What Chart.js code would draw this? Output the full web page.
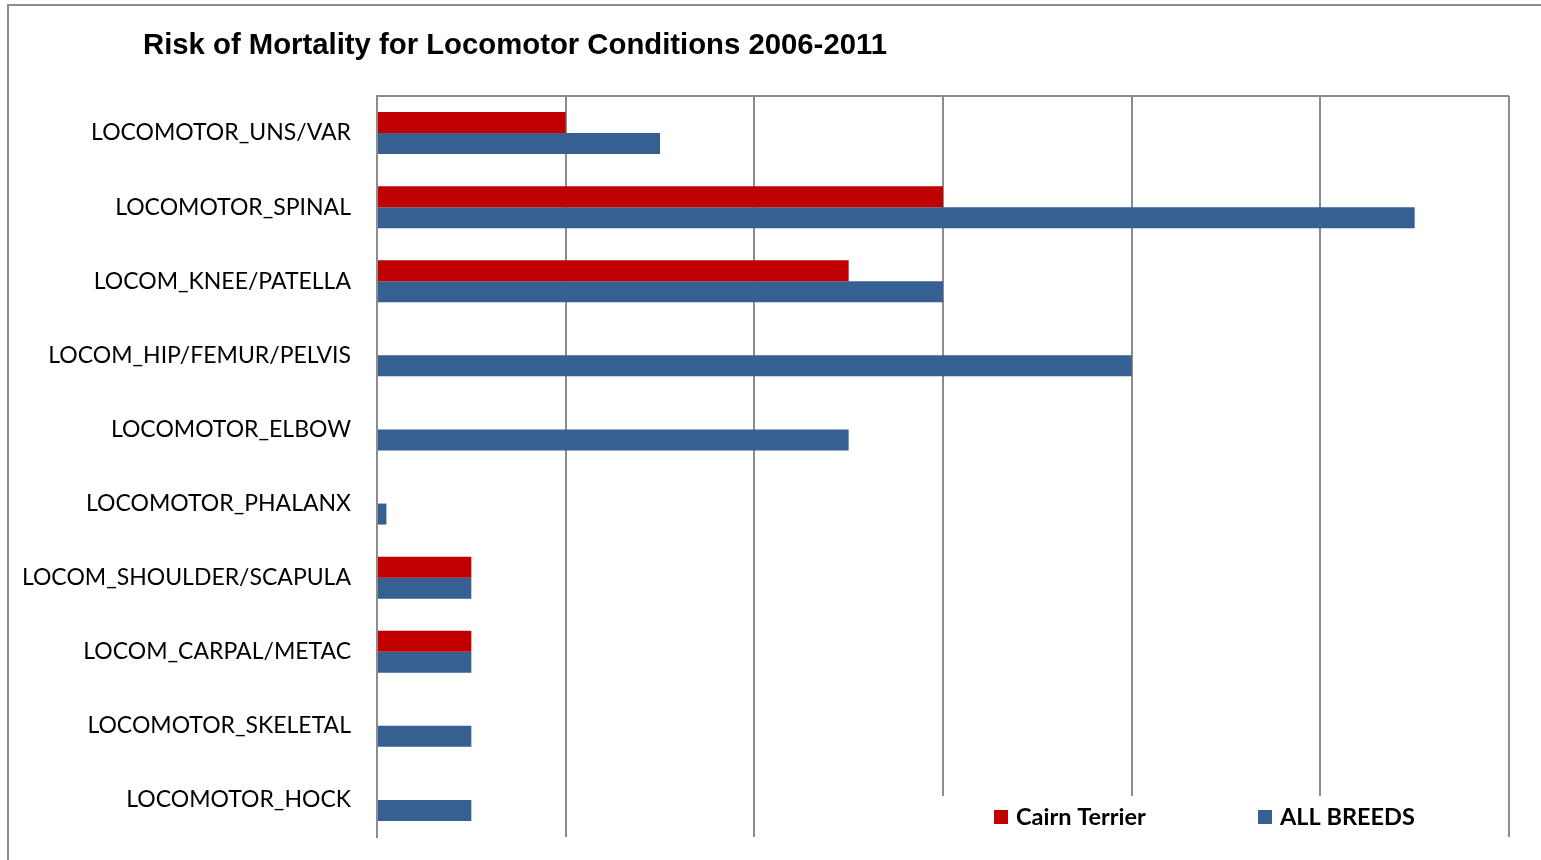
<!DOCTYPE html>
<html>
<head>
<meta charset="utf-8">
<script src="https://cdn.jsdelivr.net/npm/chart.js@4"></script>
<style>
  body { margin: 0; background: #fff; }
  #wrap { width: 1541px; height: 860px; }
</style>
</head>
<body>
<div id="wrap"><canvas id="chart" width="1541" height="860"></canvas></div>
<script>
const categories = [
  'LOCOMOTOR_UNS/VAR', 'LOCOMOTOR_SPINAL', 'LOCOM_KNEE/PATELLA', 'LOCOM_HIP/FEMUR/PELVIS',
  'LOCOMOTOR_ELBOW', 'LOCOMOTOR_PHALANX', 'LOCOM_SHOULDER/SCAPULA', 'LOCOM_CARPAL/METAC',
  'LOCOMOTOR_SKELETAL', 'LOCOMOTOR_HOCK'
]
const cairnTerrier = [1, 3, 2.5, 0, 0, 0, 0.5, 0.5, 0, 0]
const allBreeds = [1.5, 5.5, 3, 4, 2.5, 0.05, 0.5, 0.5, 0.5, 0.5]
const seriesNames = ['Cairn Terrier', 'ALL BREEDS']

const GRID = '#8c8c8c'

// outer frame, plot top border, title and legend box
const decor = {
  id: 'decor',
  beforeDraw(chart) {
    const ctx = chart.ctx
    ctx.save()
    ctx.fillStyle = '#fff'
    ctx.fillRect(0, 0, chart.width, chart.height)
    ctx.strokeStyle = GRID
    ctx.lineWidth = 2
    ctx.strokeRect(8, 5, chart.width + 20, chart.height + 20)
    ctx.restore()
  },
  afterDraw(chart) {
    const ctx = chart.ctx
    const area = chart.chartArea
    ctx.save()
    ctx.strokeStyle = GRID
    ctx.lineWidth = 2
    ctx.beginPath()
    ctx.moveTo(area.left, area.top)
    ctx.lineTo(area.right, area.top)
    ctx.stroke()

    ctx.fillStyle = '#000'
    ctx.font = 'bold 29.3px "Liberation Sans", Arial, sans-serif'
    ctx.textBaseline = 'alphabetic'
    ctx.fillText('Risk of Mortality for Locomotor Conditions 2006-2011', 143, 54)

    // legend sits over the grid, bottom right
    ctx.fillStyle = '#fff'
    ctx.fillRect(936, 796, 560, 44)
    const xs = [994, 1258]
    ctx.font = 'bold 23.5px Lato, "Liberation Sans", sans-serif'
    chart.data.datasets.forEach((ds, i) => {
      ctx.fillStyle = ds.backgroundColor
      ctx.fillRect(xs[i], 810, 14, 14)
      ctx.fillStyle = '#000'
      ctx.fillText(ds.label, xs[i] + 22, 825)
    })
    ctx.restore()
  }
}

new Chart(document.getElementById('chart'), {
  type: 'bar',
  data: {
    labels: categories,
    datasets: [
      { label: seriesNames[0], data: cairnTerrier, backgroundColor: '#C00000' },
      { label: seriesNames[1], data: allBreeds, backgroundColor: '#366092' }
    ]
  },
  options: {
    indexAxis: 'y',
    responsive: false,
    animation: false,
    layout: { padding: { top: 96, right: 32, bottom: 23, left: 0 } },
    datasets: { bar: { barPercentage: 1, categoryPercentage: 0.567 } },
    plugins: {
      legend: { display: false },
      title: { display: false },
      tooltip: { enabled: false }
    },
    scales: {
      x: {
        min: 0,
        max: 6,
        afterFit(scale) { scale.height = 0; scale.paddingLeft = 0; scale.paddingRight = 0 },
        ticks: { display: false, stepSize: 1 },
        grid: { color: GRID, lineWidth: 2, drawTicks: false },
        border: { display: false }
      },
      y: {
        afterFit(scale) {
          scale.width = 377
          scale.paddingTop = 0
          scale.paddingBottom = 0
        },
        grid: { display: false },
        border: { display: true, color: GRID, width: 2 },
        ticks: {
          color: '#000',
          padding: 18,
          font: { family: 'Lato, "Liberation Sans", sans-serif', size: 23 }
        }
      }
    }
  },
  plugins: [decor]
})
</script>
</body>
</html>
